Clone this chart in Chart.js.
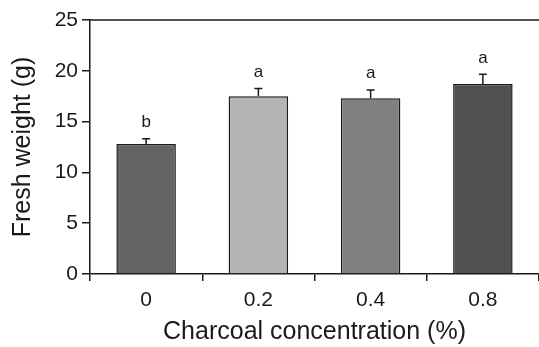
<!DOCTYPE html>
<html>
<head>
<meta charset="utf-8">
<script src="https://cdn.jsdelivr.net/npm/chart.js@4.4.0/dist/chart.umd.min.js"></script>
<style>
  html, body { margin: 0; padding: 0; background: #fff; }
  #chart { display: block; }
</style>
</head>
<body>
<canvas id="chart" width="539" height="347"></canvas>
<script>
const concentrations = ["0", "0.2", "0.4", "0.8"];
const freshWeight = [12.8, 17.5, 17.3, 18.7];
const stdError = [0.5, 0.75, 0.8, 0.95];
const sigLetters = ["b", "a", "a", "a"];
const barColors = ["#646464", "#b4b4b4", "#808080", "#505050"];
const yTicks = [0, 5, 10, 15, 20, 25];

const FONT = "'Liberation Sans', Arial, sans-serif";
const INK = "#1a1a1a";

// upper error bars, significance letters and the top frame line
const extras = {
  id: "extras",
  afterDatasetsDraw(chart) {
    const ctx = chart.ctx;
    const x = chart.scales.x;
    const y = chart.scales.y;
    const area = chart.chartArea;
    ctx.save();
    ctx.strokeStyle = INK;
    ctx.lineWidth = 1.5;
    ctx.beginPath();
    ctx.moveTo(area.left, area.top);
    ctx.lineTo(area.right, area.top);
    ctx.stroke();

    freshWeight.forEach((v, i) => {
      const cx = x.getPixelForValue(i);
      const yTop = y.getPixelForValue(v);
      const yErr = y.getPixelForValue(v + stdError[i]);
      ctx.lineWidth = 1.5;
      ctx.beginPath();
      ctx.moveTo(cx, yTop);
      ctx.lineTo(cx, yErr);
      ctx.moveTo(cx - 4, yErr);
      ctx.lineTo(cx + 4, yErr);
      ctx.stroke();

      ctx.fillStyle = INK;
      ctx.font = "17px " + FONT;
      ctx.textAlign = "center";
      ctx.textBaseline = "bottom";
      ctx.fillText(sigLetters[i], cx, yErr - 8);
    });
    ctx.restore();
  },
};

new Chart(document.getElementById("chart"), {
  type: "bar",
  data: {
    labels: concentrations,
    datasets: [
      {
        data: freshWeight,
        backgroundColor: barColors,
        borderColor: INK,
        borderWidth: 1.5,
        categoryPercentage: 1,
        barPercentage: 0.53,
      },
    ],
  },
  options: {
    responsive: false,
    animation: false,
    layout: { padding: { top: 20, right: 0, left: 8, bottom: 0 } },
    plugins: { legend: { display: false }, tooltip: { enabled: false } },
    scales: {
      x: {
        grid: { offset: true, drawOnChartArea: false, drawTicks: true, tickLength: 7, color: INK, lineWidth: 1.5 },
        border: { display: true, color: INK, width: 1.5 },
        ticks: { color: INK, font: { family: FONT, size: 21 }, padding: 7 },
        title: {
          display: true,
          text: "Charcoal concentration (%)",
          color: INK,
          font: { family: FONT, size: 25 },
          padding: { top: 2, bottom: 0 },
        },
        afterFit(scale) { scale.height = 73; },
      },
      y: {
        min: 0,
        max: 25,
        afterBuildTicks(scale) { scale.ticks = yTicks.map((v) => ({ value: v })); },
        grid: { drawOnChartArea: false, drawTicks: true, tickLength: 8, color: INK, lineWidth: 1.5 },
        border: { display: true, color: INK, width: 1.5 },
        ticks: { color: INK, font: { family: FONT, size: 21 }, padding: 4 },
        title: {
          display: true,
          text: "Fresh weight (g)",
          color: INK,
          font: { family: FONT, size: 25 },
          padding: { top: 0, bottom: 4 },
        },
        afterFit(scale) { scale.width = 82; },
      },
    },
  },
  plugins: [extras],
});
</script>
</body>
</html>
